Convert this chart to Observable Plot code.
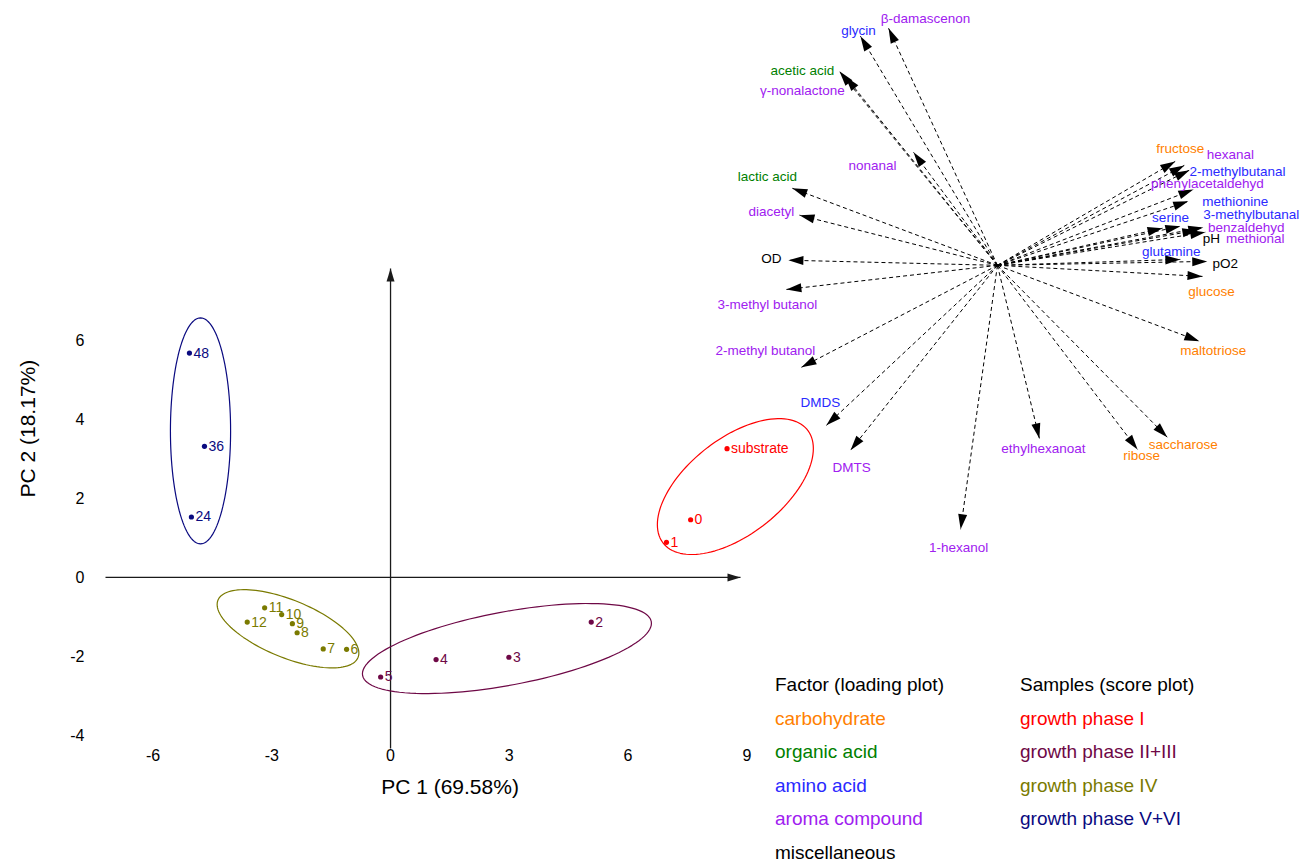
<!DOCTYPE html>
<html>
<head>
<meta charset="utf-8">
<script src="https://cdn.jsdelivr.net/npm/d3@7"></script>
<script src="https://cdn.jsdelivr.net/npm/@observablehq/plot@0.6"></script>
<style>
  html, body { margin: 0; padding: 0; background: #fff; }
  #wrap { position: relative; width: 1311px; height: 864px; font-family: "Liberation Sans", Arial, sans-serif; }
  #wrap svg { position: absolute; left: 0; top: 0; }
  .legend { position: absolute; top: 668px; font-size: 19px; line-height: 33.6px; }
  .legend div { white-space: nowrap; }
</style>
</head>
<body>
<div id="wrap"></div>
<script>
// ---------- data ----------
const xTicks = [-6, -3, 0, 3, 6, 9];
const yTicks = [-4, -2, 0, 2, 4, 6];
const xTitle = "PC 1 (69.58%)";
const yTitle = "PC 2 (18.17%)";

const groupNames = ["growth phase I", "growth phase II+III", "growth phase IV", "growth phase V+VI"];
const groupColors = ["#ff0000", "#6e0846", "#7a7a00", "#0a0a80"];

const sampleIds    = ["substrate", "0", "1", "2", "3", "4", "5", "6", "7", "8", "9", "10", "11", "12", "24", "36", "48"];
const sampleGroup  = [0, 0, 0, 1, 1, 1, 1, 2, 2, 2, 2, 2, 2, 2, 3, 3, 3];
const samplePC1    = [8.50, 7.58, 6.97, 5.07, 2.99, 1.15, -0.25, -1.11, -1.70, -2.36, -2.48, -2.75, -3.18, -3.62, -5.03, -4.70, -5.08];
const samplePC2    = [3.26, 1.46, 0.89, -1.13, -2.02, -2.08, -2.52, -1.82, -1.81, -1.40, -1.17, -0.94, -0.77, -1.13, 1.53, 3.32, 5.68];

// group ellipses: centre, half-extent along PC1 / PC2, correlation
const ellCX = [8.71, 2.94, -2.59, -4.80];
const ellCY = [2.30, -1.80, -1.30, 3.71];
const ellSX = [1.97, 3.65, 1.79, 0.76];
const ellSY = [1.72, 1.14, 0.99, 2.86];
const ellR  = [0.56, 0.56, -0.62, 0.0];

const factorTypes  = ["carbohydrate", "organic acid", "amino acid", "aroma compound", "miscellaneous"];
const factorColors = ["#ff8000", "#008000", "#2a2aff", "#a020f0", "#000000"];

// loading vectors (plot units, relative to the loading-plot origin)
const varNames = ["β-damascenon", "glycin", "acetic acid", "γ-nonalactone", "nonanal", "lactic acid", "diacetyl", "OD",
  "3-methyl butanol", "2-methyl butanol", "DMDS", "DMTS", "1-hexanol", "ethylhexanoat", "ribose", "saccharose",
  "maltotriose", "glucose", "pO2", "glutamine", "pH", "methional", "benzaldehyd", "3-methylbutanal", "serine",
  "methionine", "phenylacetaldehyd", "2-methylbutanal", "hexanal", "fructose"];
const varType = [3, 2, 1, 3, 3, 1, 3, 4, 3, 3, 2, 3, 3, 3, 0, 0, 0, 0, 4, 2, 4, 3, 3, 2, 2, 2, 3, 2, 3, 0];
const loadPC1 = [-2.75, -3.46, -3.99, -3.84, -2.12, -5.18, -5.00, -5.28, -5.33, -4.95, -4.32, -3.71, -0.93, 1.06, 3.54, 4.29,
  5.10, 5.18, 5.30, 4.62, 5.05, 5.25, 5.20, 4.62, 4.17, 4.82, 4.95, 4.85, 4.72, 4.49];
const loadPC2 = [6.00, 5.80, 4.91, 4.78, 2.86, 1.95, 1.27, 0.13, -0.61, -2.58, -4.05, -4.68, -6.68, -4.38, -4.66, -4.35,
  -1.92, -0.28, 0.10, 0.15, 0.89, 0.84, 0.96, 0.99, 0.94, 1.62, 1.92, 2.41, 2.53, 2.63];

// ---------- layout (not data) ----------
const loadingOrigin = [15.33, 7.90];
const labelNudge = [[37,-10],[-2,-6],[-37,-1],[-43,14],[-41,13],[-25,-12],[-28,-3],[-17,-2],[-19,15],[-36,-17],[-6,-23],[1,17],
  [-2,18],[4,10],[4,6],[16,7],[14,9],[9,15],[18,2],[-9,-8],[14,8],[50,7],[43,0],[71,-12],[8,-11],[47,0],[14,-6],[48,2],[46,-11],[5,-13]];
const xDomain = [-7.2, 8.84];
const yDomain = [-4.33, 7.82];
const FONT = '"Liberation Sans", Arial, sans-serif';

// ---------- derived tables ----------
const scores = sampleIds.map((id, i) => ({id, group: groupNames[sampleGroup[i]], pc1: samplePC1[i], pc2: samplePC2[i]}));
const ellipsePts = [];
groupNames.forEach((g, k) => {
  const n = 120;
  for (let j = 0; j <= n; j++) {
    const t = 2 * Math.PI * j / n;
    ellipsePts.push({group: g,
      x: ellCX[k] + ellSX[k] * Math.cos(t),
      y: ellCY[k] + ellSY[k] * (ellR[k] * Math.cos(t) + Math.sqrt(1 - ellR[k] * ellR[k]) * Math.sin(t))});
  }
});
const loadings = varNames.map((name, i) => ({name, type: varType[i], x1: loadingOrigin[0], y1: loadingOrigin[1],
  x2: loadingOrigin[0] + loadPC1[i], y2: loadingOrigin[1] + loadPC2[i]}));

const SVGNS = "http://www.w3.org/2000/svg";
function headMarker(len, half) {
  return (color, context) => {
    const doc = (context && context.document) || document;
    const m = doc.createElementNS(SVGNS, "marker");
    m.setAttribute("viewBox", `${-len} ${-half} ${len} ${2 * half}`);
    m.setAttribute("markerWidth", len);
    m.setAttribute("markerHeight", 2 * half);
    m.setAttribute("markerUnits", "userSpaceOnUse");
    m.setAttribute("refX", 0);
    m.setAttribute("refY", 0);
    m.setAttribute("orient", "auto");
    m.setAttribute("overflow", "visible");
    const p = doc.createElementNS(SVGNS, "path");
    p.setAttribute("d", `M${-len},${-half}L0,0L${-len},${half}Z`);
    p.setAttribute("fill", color);
    p.setAttribute("stroke", "none");
    m.appendChild(p);
    return m;
  };
}

const axesLines = [
  {x1: xDomain[0], y1: 0, x2: xDomain[1], y2: 0},
  {x1: 0, y1: yDomain[0], x2: 0, y2: yDomain[1]}
];

const marks = [
  Plot.link(axesLines, {x1: "x1", y1: "y1", x2: "x2", y2: "y2", stroke: "#1a1a1a", strokeWidth: 1.3, markerEnd: headMarker(13, 4)}),
  Plot.text(xTicks, {x: d => d, frameAnchor: "bottom", dy: 12, text: d => String(d), fontSize: 16, fill: "#000", fontFamily: FONT}),
  Plot.text(yTicks, {y: d => d, frameAnchor: "left", dx: -21, textAnchor: "end", text: d => String(d), fontSize: 16, fill: "#000", fontFamily: FONT}),
  Plot.text([xTitle], {frameAnchor: "bottom", dx: 27, dy: 45, text: d => d, fontSize: 21, fill: "#000", fontFamily: FONT}),
  Plot.text([yTitle], {frameAnchor: "left", dx: -77, dy: -11, rotate: -90, text: d => d, fontSize: 21, fill: "#000", fontFamily: FONT}),
  Plot.line(ellipsePts, {x: "x", y: "y", z: "group", stroke: "group", strokeWidth: 1.2}),
  Plot.dot(scores, {x: "pc1", y: "pc2", fill: "group", r: 2.6}),
  Plot.text(scores, {x: "pc1", y: "pc2", text: "id", fill: "group", dx: 4, textAnchor: "start", fontSize: 14, fontFamily: FONT}),
  Plot.link(loadings, {x1: "x1", y1: "y1", x2: "x2", y2: "y2", stroke: "#000", strokeWidth: 1, strokeDasharray: "4,3", markerEnd: headMarker(15, 4.5)}),
  ...loadings.map((d, i) => Plot.text([d], {x: "x2", y: "y2", text: "name", dx: labelNudge[i][0], dy: labelNudge[i][1],
    fill: factorColors[d.type], fontSize: 13.5, fontFamily: FONT}))
];

const chart = Plot.plot({
  width: 1311,
  height: 864,
  marginLeft: 105,
  marginRight: 1311 - 740,
  marginTop: 268,
  marginBottom: 864 - 748,
  x: {domain: xDomain, axis: null},
  y: {domain: yDomain, axis: null},
  color: {type: "ordinal", domain: groupNames, range: groupColors},
  style: {fontFamily: FONT, background: "white", overflow: "visible"},
  marks
});
const wrap = document.getElementById("wrap");
wrap.appendChild(chart);

function legend(left, title, names, colors) {
  const div = document.createElement("div");
  div.className = "legend";
  div.style.left = left + "px";
  const t = document.createElement("div");
  t.textContent = title; t.style.color = "#000";
  div.appendChild(t);
  names.forEach((n, i) => {
    const r = document.createElement("div");
    r.textContent = n; r.style.color = colors[i];
    div.appendChild(r);
  });
  wrap.appendChild(div);
}
legend(775, "Factor (loading plot)", factorTypes, factorColors);
legend(1020, "Samples (score plot)", groupNames, groupColors);
</script>
</body>
</html>
